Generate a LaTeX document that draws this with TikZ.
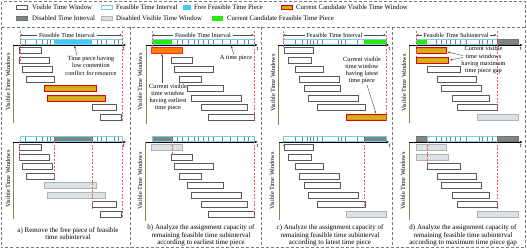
\documentclass[tikz,border=0pt]{standalone}
\usepackage{fontspec}
\setmainfont{Liberation Serif}
\usetikzlibrary{arrows.meta}
\definecolor{barblue}{RGB}{120,205,235}
\definecolor{freeblue}{RGB}{70,200,240}
\definecolor{disgray}{RGB}{125,135,135}
\definecolor{dislight}{RGB}{218,226,230}
\definecolor{candgreen}{RGB}{40,235,10}
\definecolor{axisgreen}{RGB}{115,140,90}
\definecolor{goldA}{RGB}{215,150,10}
\definecolor{goldB}{RGB}{205,185,35}
\definecolor{sepgray}{RGB}{120,120,120}
\definecolor{softred}{RGB}{235,90,90}
\tikzset{
 win/.style={draw=black!65, line width=0.6pt, fill=white},
 dwin/.style={draw=black!30, line width=0.6pt, fill=dislight},
 cwin/.style={draw=red!90!black, line width=0.7pt, top color=goldA, bottom color=goldA, middle color=goldB},
 owin/.style={draw=red!85, line width=0.7pt, fill=orange},
 barbox/.style={draw=barblue, line width=0.7pt},
 freep/.style={fill=freeblue},
 disp/.style={fill=disgray, draw=black!55, line width=0.5pt},
 grnp/.style={fill=candgreen},
 tk/.style={draw=black!50, line width=0.3pt},
 redl/.style={draw=softred, line width=0.35pt, dash pattern=on 2pt off 1.5pt},
 sepl/.style={draw=sepgray, line width=0.6pt, dash pattern=on 3pt off 2pt},
 taxis/.style={draw=black, line width=0.6pt, -{Stealth[length=3pt,width=2.4pt]}},
 vaxis/.style={draw=axisgreen, line width=0.9pt},
 lbl/.style={font=\fontsize{6.2}{7}\selectfont, inner sep=1.5pt},
 tlab/.style={font=\fontsize{6.2}{7}\selectfont, inner sep=0pt},
 ann/.style={font=\fontsize{6.3}{7.3}\selectfont, align=center, inner sep=0.5pt},
 captxt/.style={font=\fontsize{7}{7.6}\selectfont, align=center, inner sep=0pt},
 leg/.style={font=\fontsize{6.8}{7}\selectfont, anchor=west, inner sep=0pt},
 annarr/.style={draw=black!70, line width=0.4pt, -{Stealth[length=2.5pt,width=2pt]}},
 ylab/.style={font=\fontsize{6.3}{7}\selectfont, rotate=90, inner sep=0pt},
}
\newcommand\twin[5]{\path[#1] (#2,{47.5+9.5*#4+#5}) rectangle (#3,{53.5+9.5*#4+#5});}
\begin{document}
\begin{tikzpicture}[x=1pt,y=-1pt]
\useasboundingbox (0,0) rectangle (527,249);
% frame
\draw[sepl] (1.5,1.5) rectangle (525.5,247.5);
\draw[sepl] (1.5,27) -- (525.5,27);
\foreach \x in {130.5,261.5,392.5} \draw[sepl] (\x,27) -- (\x,247.5);
% legend
\path[win] (16,5) rectangle (27,9.5); \node[leg] (l1) at (32,7.2) {Visible Time Window};
\path[barbox,fill=white] (101,5) rectangle (112,9.5); \node[leg] (l2) at (116,7.2) {Feasible Time Interval};
\path[freep] (183,5) rectangle (191,9.5); \node[leg] (l3) at (194,7.2) {Free Feasible Time Piece};
\path[cwin] (281,5) rectangle (292,9.5); \node[leg] (l4) at (296,7.2) {Current Candidate Visible Time Window};
\path[disp] (16,16) rectangle (27,20.5); \node[leg] (l5) at (32,18.3) {Disabled Time Interval};
\path[dwin] (101,16) rectangle (112,20.5); \node[leg] (l6) at (116,18.3) {Disabled Visible Time Window};
\path[grnp] (212,16) rectangle (223,20.5); \node[leg] (l7) at (227,18.3) {Current Candidate Feasible Time Piece};

% ================= panel a top
\path[barbox,fill=white] (20,39.5) rectangle (122,44);
\path[freep] (54,39.5) rectangle (92,44);
\foreach \x in {25,36,42,47,50,97,101,106,114,118} \draw[tk] (\x,40) -- (\x,43.5);
\path[barbox] (20,39.5) rectangle (122,44);
\draw[vaxis] (13,45) -- (13,123);
\draw[taxis] (13,45) -- (126,45);
\node[tlab] (ta1) at (124,48.5) {t};
\node[ylab] (ya1) at (8,82) {Visible Time Windows};
\twin{win}{19.5}{41}{0}{0}
\twin{win}{19.5}{49}{1}{0}
\twin{win}{22.5}{52}{2}{0}
\twin{win}{26.5}{54}{3}{0}
\twin{cwin}{44.5}{96}{4}{0}
\twin{cwin}{47.5}{105}{5}{0}
\twin{win}{92}{116}{6}{0}
\twin{win}{100.5}{121}{7}{0}
\draw[redl] (20,31) -- (20,63);
\draw[redl] (122,31) -- (122,121);
\node[lbl] (fa) at (67,35) {Feasible Time Interval};
\draw[annarr] (fa.west) -- (20,35);
\draw[annarr] (fa.east) -- (122,35);
\node[ann] (na) at (91,65.7) {Time piece having\\low contention\\conflict for resource};
\coordinate (pa) at (74.5,45.8);
\draw[annarr] ([xshift=-14pt]na.north) -- (pa);

% ================= panel a bottom
\path[barbox,fill=white] (20,136.5) rectangle (122,141);
\path[disp] (54,136.5) rectangle (92,141);
\foreach \x in {25,36,42,47,50,97,101,106,114,118} \draw[tk] (\x,137) -- (\x,140.5);
\path[barbox] (20,136.5) rectangle (122,141);
\draw[vaxis] (13,142) -- (13,219);
\draw[taxis] (13,142) -- (126,142);
\node[tlab] (ta2) at (124,145.5) {t};
\node[ylab] (ya2) at (8,179) {Visible Time Windows};
\twin{win}{19.5}{41}{0}{97}
\twin{win}{19.5}{49}{1}{97}
\twin{win}{22.5}{52}{2}{97}
\twin{win}{26.5}{54}{3}{97}
\twin{dwin}{44.5}{96}{4}{97}
\twin{dwin}{47.5}{105}{5}{97}
\twin{win}{92}{116}{6}{97}
\twin{win}{100.5}{121}{7}{97}
\draw[redl] (19.5,141) -- (19.5,160.5);
\draw[redl] (54,141) -- (54,179);
\draw[redl] (92,141) -- (92,208);
\draw[redl] (122,141) -- (122,218);
\node[captxt] (capa) at (68,233.5) {a) Remove the free piece of feasible\\time subinterval};

% ================= panel b top
\path[barbox,fill=white] (152,39.5) rectangle (254,44);
\path[grnp] (152,39.5) rectangle (172,44);
\foreach \x in {177,182,188,194,198,203,208,213,222,230,237,244,248} \draw[tk] (\x,40) -- (\x,43.5);
\path[barbox] (152,39.5) rectangle (254,44);
\draw[vaxis] (146,45) -- (146,124);
\draw[taxis] (146,45) -- (257.5,45);
\node[tlab] (tb1) at (257.5,48.5) {t};
\node[ylab] (yb1) at (140,82) {Visible Time Windows};
\twin{owin}{151.5}{182}{0}{0}
\twin{win}{171}{192}{1}{0}
\twin{win}{174}{213}{2}{0}
\twin{win}{179}{201}{3}{0}
\twin{win}{187}{223}{4}{0}
\twin{win}{191}{241}{5}{0}
\twin{win}{201}{247}{6}{0}
\twin{win}{208}{254}{7}{0}
\draw[redl] (152,31) -- (152,47.5);
\draw[redl] (254,31) -- (254,119.5);
\node[lbl] (fb) at (203,35) {Feasible Time Interval};
\draw[annarr] (fb.west) -- (152,35);
\draw[annarr] (fb.east) -- (254,35);
\node[ann] (nb1) at (236,58) {A time piece};
\coordinate (pb1) at (231,45.8);
\draw[annarr] ([xshift=-2pt]nb1.north) -- (pb1);
\node[ann] (nb2) at (168,97.5) {Current visible\\time window\\having earliest\\time piece};
\coordinate (pb2) at (162,54);
\draw[annarr] (nb2.north -| pb2) -- (pb2);

% ================= panel b bottom
\path[barbox,fill=white] (152,136.5) rectangle (254,141);
\path[disp] (152,136.5) rectangle (172,141);
\foreach \x in {177,182,188,194,198,203,208,213,222,230,237,244,248} \draw[tk] (\x,137) -- (\x,140.5);
\path[barbox] (152,136.5) rectangle (254,141);
\draw[vaxis] (145.5,142) -- (145.5,221);
\draw[taxis] (145.5,142) -- (257.5,142);
\node[tlab] (tb2) at (257.5,145.5) {t};
\node[ylab] (yb2) at (140,181) {Visible Time Windows};
\twin{dwin}{151.5}{182}{0}{97}
\twin{win}{171}{192}{1}{97}
\twin{win}{174}{213}{2}{97}
\twin{win}{179}{201}{3}{97}
\twin{win}{187}{223}{4}{97}
\twin{win}{191}{241}{5}{97}
\twin{win}{201}{247}{6}{97}
\twin{win}{208}{254}{7}{97}
\draw[redl] (172,141) -- (172,153.5);
\draw[redl] (254,141) -- (254,216.5);
\node[captxt] (capb) at (201,235.5) {b) Analyze the assignment capacity of\\remaining feasible time subinterval\\according to earliest time piece};

% ================= panel c top
\path[barbox,fill=white] (283,39.5) rectangle (386,44);
\path[grnp] (364,39.5) rectangle (386,44);
\foreach \x in {295,302,307,310,313,317,322,338,341,345,357} \draw[tk] (\x,40) -- (\x,43.5);
\path[barbox] (283,39.5) rectangle (386,44);
\draw[vaxis] (278,45) -- (278,125);
\draw[taxis] (278,45) -- (389,45);
\node[tlab] (tc1) at (389.5,48.5) {t};
\node[ylab] (yc1) at (273,83) {Visible Time Windows};
\twin{win}{284}{313}{0}{0}
\twin{win}{288}{311}{1}{0}
\twin{win}{295}{323}{2}{0}
\twin{win}{299}{339}{3}{0}
\twin{win}{304}{340}{4}{0}
\twin{win}{308}{358}{5}{0}
\twin{win}{317}{365}{6}{0}
\twin{cwin}{346}{386}{7}{0}
\draw[redl] (283,31) -- (283,48);
\draw[redl] (386,31) -- (386,121);
\node[lbl] (fc) at (334.5,35) {Feasible Time Interval};
\draw[annarr] (fc.west) -- (283,35);
\draw[annarr] (fc.east) -- (386,35);
\node[ann] (nc) at (362,70.5) {Current visible\\time window\\having latest\\time piece};
\coordinate (pc) at (376,113.5);
\draw[annarr] ([xshift=5pt]nc.south) -- (pc);

% ================= panel c bottom
\path[barbox,fill=white] (283,136.5) rectangle (386,141);
\path[disp] (364,136.5) rectangle (386,141);
\foreach \x in {295,302,307,310,313,317,322,338,341,345,357} \draw[tk] (\x,137) -- (\x,140.5);
\path[barbox] (283,136.5) rectangle (386,141);
\draw[vaxis] (279,142) -- (279,220);
\draw[taxis] (279,142) -- (389,142);
\node[tlab] (tc2) at (389.5,145.5) {t};
\node[ylab] (yc2) at (272,181) {Visible Time Windows};
\twin{win}{284}{313}{0}{97}
\twin{win}{288}{311}{1}{97}
\twin{win}{295}{323}{2}{97}
\twin{win}{299}{339}{3}{97}
\twin{win}{304}{340}{4}{97}
\twin{win}{308}{358}{5}{97}
\twin{win}{317}{365}{6}{97}
\twin{dwin}{346}{386}{7}{97}
\draw[redl] (364,141) -- (364,207);
\draw[redl] (283.5,141) -- (283.5,145.5);
\node[captxt] (capc) at (330,235.5) {c) Analyze the assignment capacity of\\remaining feasible time subinterval\\according to latest time piece};

% ================= panel d top
\path[barbox,fill=white] (416,39.5) rectangle (518,44);
\path[grnp] (416,39.5) rectangle (427,44);
\foreach \x in {436,441,446,450,455,460,466,479,482,487,492} \draw[tk] (\x,40) -- (\x,43.5);
\path[barbox] (416,39.5) rectangle (497,44);
\path[disp] (497,39.5) rectangle (518,44);
\draw[vaxis] (409,45) -- (409,123);
\draw[taxis] (409,45) -- (522.5,45);
\node[tlab] (td1) at (521,48.5) {t};
\node[ylab] (yd1) at (404,83) {Visible Time Windows};
\twin{cwin}{416}{446}{0}{0}
\twin{cwin}{416}{448.5}{1}{0}
\twin{win}{427}{460}{2}{0}
\twin{win}{437}{476}{3}{0}
\twin{win}{441}{481}{4}{0}
\twin{win}{452}{489}{5}{0}
\twin{win}{457}{497}{6}{0}
\twin{dwin}{477}{518}{7}{0}
\draw[redl] (416,31) -- (416,57);
\draw[redl] (497,31) -- (497,110.5);
\node[lbl] (fd) at (456,35) {Feasible Time Subinterval};
\draw[annarr] (fd.west) -- (416,35);
\draw[annarr] (fd.east) -- (496.5,35);
\node[ann] (nd) at (483.5,60.3) {Current visible\\time windows\\having maximum\\time piece gap};
\coordinate (qd1) at (463,55.5);
\coordinate (qd2) at (463,57.5);
\coordinate (pd1) at (447.5,52);
\coordinate (pd2) at (450,60);
\draw[annarr] (qd1) -- (pd1);
\draw[annarr] (qd2) -- (pd2);

% ================= panel d bottom
\path[barbox,fill=white] (416,136.5) rectangle (497,141);
\path[disp] (416,136.5) rectangle (427,141);
\foreach \x in {436,441,446,450,455,460,466,479,482,487,492} \draw[tk] (\x,137) -- (\x,140.5);
\path[barbox] (427,136.5) rectangle (497,141);
\path[disp] (497,136.5) rectangle (518,141);
\draw[vaxis] (409,142) -- (409,220);
\draw[taxis] (409,142) -- (522.5,142);
\node[tlab] (td2) at (521,145.5) {t};
\node[ylab] (yd2) at (403,181) {Visible Time Windows};
\twin{dwin}{416}{446}{0}{97}
\twin{dwin}{416}{448.5}{1}{97}
\twin{win}{427}{460}{2}{97}
\twin{win}{437}{476}{3}{97}
\twin{win}{441}{481}{4}{97}
\twin{win}{452}{489}{5}{97}
\twin{win}{457}{497}{6}{97}
\twin{dwin}{477}{518}{7}{97}
\draw[redl] (427,141) -- (427,163.5);
\draw[redl] (497,141) -- (497,208);
\node[captxt] (capd) at (463,235.5) {d) Analyze the assignment capacity of\\remaining feasible time subinterval\\according to maximum time piece gap};
\end{tikzpicture}
\end{document}
